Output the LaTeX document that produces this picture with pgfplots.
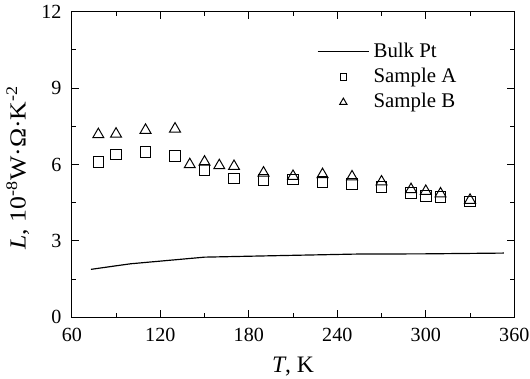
\documentclass[border=0pt]{standalone}
\usepackage{pgfplots}
\pgfplotsset{compat=1.18}
\usepackage{fontspec}
\setmainfont{Liberation Serif}
\newfontfamily\wide{Liberation Serif}[FakeStretch=1.12]
\begin{document}
\begin{tikzpicture}
\begin{axis}[
  scale only axis, width=225pt, height=155.3pt,
  xmin=60, xmax=360, ymin=0, ymax=12,
  xtick={60,120,...,360}, ytick={0,3,...,12},
  minor x tick num=1, minor y tick num=1,
  tick align=inside, tick pos=both,
  major tick length=3.5pt, minor tick length=2.2pt,
  every tick/.style={black, line width=0.5pt},
  axis line style={line width=0.6pt},
  font=\fontsize{10}{12}\selectfont,
  tick label style={font=\fontsize{10.2}{12}\selectfont},
  yticklabel style={xshift=-1.7pt},
  xticklabel style={yshift=-2pt},
  /pgf/number format/assume math mode=true,
  xlabel={\textit{T}, K},
  ylabel={\textit{L}, 10\textsuperscript{-8}W·Ω·K\textsuperscript{-2}},
  every axis x label/.style={at={(axis description cs:0.5,0)}, anchor=center, yshift=-25pt, font=\fontsize{12}{14}\selectfont},
  every axis y label/.style={at={(axis description cs:-0.122,0.49)}, rotate=90, anchor=center, font=\wide\fontsize{11.7}{14}\selectfont},
  legend style={draw=none, fill=none, at={(0.54,0.925)}, anchor=north west,
    font=\fontsize{10.6}{12.5}\selectfont, row sep=0pt},
  legend cell align=left,
  legend image code/.code={\draw[mark repeat=2,mark phase=2,#1] plot coordinates {(0cm,0cm) (0.46cm,0cm) (0.92cm,0cm)};},
]
\addplot[black, line width=0.6pt, mark=none] coordinates {
 (73,1.88) (90,2.02) (100,2.1) (150,2.36) (200,2.42) (252,2.48) (300,2.49) (353,2.52)
};
\addlegendentry{Bulk Pt}
\addplot[only marks, mark=square, mark size=2.7pt, black, line width=0.5pt,
  legend image post style={mark size=1.7pt}] coordinates {
 (78,6.09) (90,6.39) (110,6.50) (130,6.33) (150,5.78) (170,5.45) (190,5.39)
 (210,5.41) (230,5.31) (250,5.24) (270,5.11) (290,4.89) (300,4.76) (310,4.72) (330,4.54)
};
\addlegendentry{Sample A}
\addplot[only marks, mark=triangle, mark size=3.2pt, black, line width=0.5pt,
  legend image post style={mark size=2.1pt}] coordinates {
 (78,7.18) (90,7.20) (110,7.35) (130,7.40) (140,6.00) (150,6.10) (160,5.96) (170,5.93)
 (190,5.67) (210,5.54) (230,5.61) (250,5.52) (270,5.32) (290,5.02) (300,4.95) (310,4.85) (330,4.60)
};
\addlegendentry{Sample B}
\end{axis}
\pgfresetboundingbox
\path (current axis.south west) ++(-36.5pt,-31pt) rectangle ([shift={(8pt,6pt)}]current axis.north east);
\end{tikzpicture}
\end{document}
